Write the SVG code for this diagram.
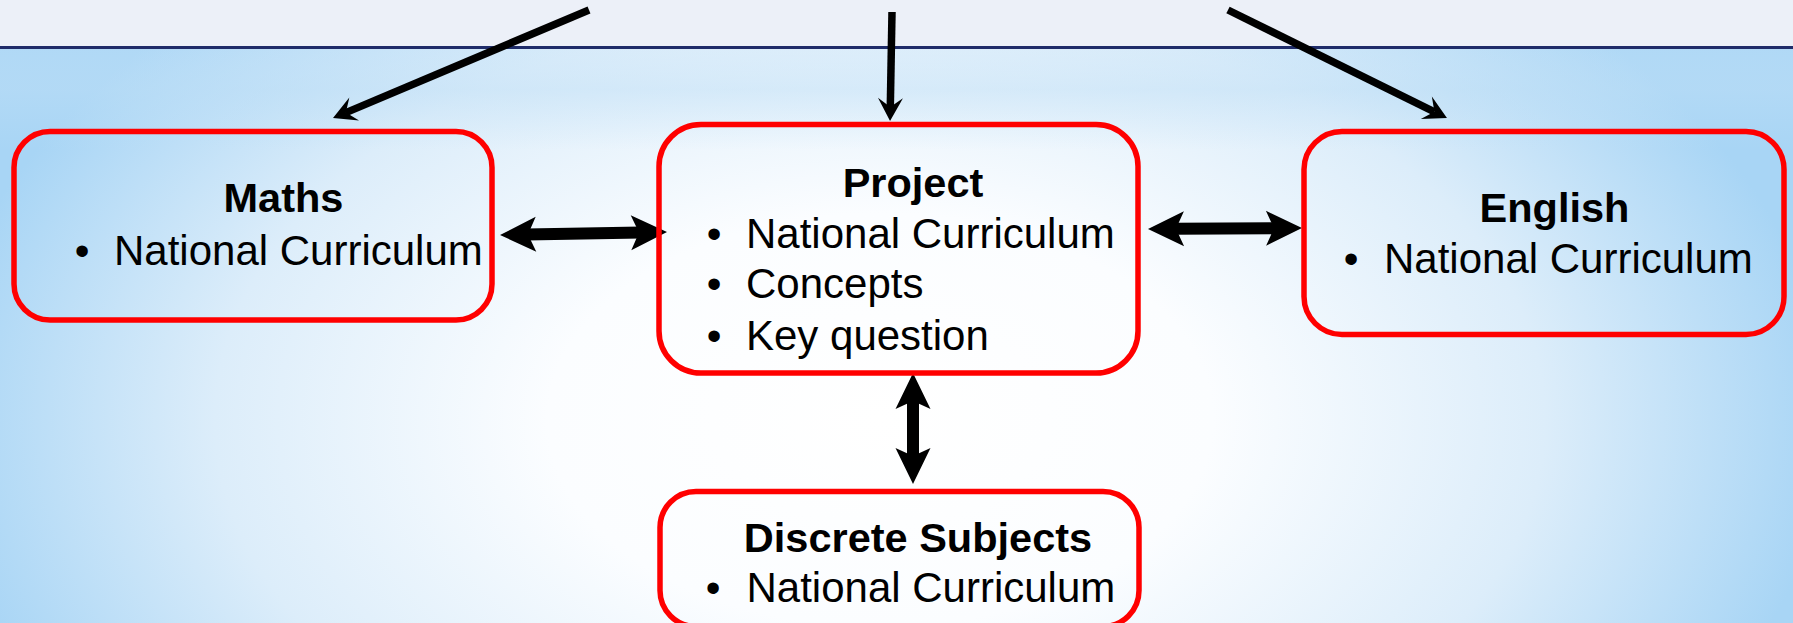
<svg xmlns="http://www.w3.org/2000/svg" width="1793" height="623" viewBox="0 0 1793 623">
  <defs>
    <radialGradient id="bg" gradientUnits="userSpaceOnUse" cx="880" cy="420" r="950" gradientTransform="translate(880 420) scale(1 0.62) translate(-880 -420)">
      <stop offset="0" stop-color="#FFFFFF"/>
      <stop offset="0.35" stop-color="#FBFDFF"/>
      <stop offset="0.7" stop-color="#DCEDFA"/>
      <stop offset="1" stop-color="#A8D5F5"/>
    </radialGradient>
    <linearGradient id="band" x1="0" y1="49" x2="0" y2="150" gradientUnits="userSpaceOnUse">
      <stop offset="0" stop-color="#C9E4F8" stop-opacity="0.25"/>
      <stop offset="0.4" stop-color="#BFDFF6" stop-opacity="0.45"/>
      <stop offset="1" stop-color="#BFDFF6" stop-opacity="0"/>
    </linearGradient>
    <marker id="thin" markerUnits="userSpaceOnUse" viewBox="-30 -16 32 32" markerWidth="32" markerHeight="32" refX="-14" refY="0" orient="auto">
      <path d="M0,0 L-23,-12.5 L-14,0 L-23,12.5 Z" fill="#000"/>
    </marker>
    <marker id="thick" markerUnits="userSpaceOnUse" viewBox="-40 -20 42 40" markerWidth="42" markerHeight="40" refX="-26" refY="0" orient="auto-start-reverse">
      <path d="M0,0 L-36,-17.5 L-28,0 L-36,17.5 Z" fill="#000"/>
    </marker>
  </defs>
  <style>
    .box { fill: none; stroke: #FF0000; stroke-width: 5.5; }
    .title { font-family: "Liberation Sans", Arial, sans-serif; font-weight: bold; font-size: 41.5px; fill: #000; text-anchor: middle; }
    .item { font-family: "Liberation Sans", Arial, sans-serif; font-size: 42px; fill: #000; }
    .bullet { font-family: "Liberation Sans", Arial, sans-serif; font-size: 42px; fill: #000; text-anchor: middle; }
    .thinline { stroke: #000; stroke-width: 7.5; fill: none; marker-end: url(#thin); }
    .thickline { stroke: #000; stroke-width: 12; fill: none; marker-start: url(#thick); marker-end: url(#thick); }
  </style>

  <!-- background -->
  <rect x="0" y="0" width="1793" height="623" fill="url(#bg)"/>
  <rect x="0" y="49" width="1793" height="101" fill="url(#band)"/>
  <rect x="0" y="0" width="1793" height="46" fill="#ECF0F8"/>
  <rect x="0" y="46" width="1793" height="3" fill="#1F2C6A"/>

  <g id="connectors">
    <line class="thinline" x1="589" y1="10" x2="345.9" y2="112.6"/>
    <line class="thinline" x1="892" y1="12" x2="890.3" y2="107"/>
    <line class="thinline" x1="1228" y1="10" x2="1434.4" y2="111.8"/>
    <line class="thickline" x1="526" y1="234.5" x2="641" y2="232.5"/>
    <line class="thickline" x1="1174" y1="228.8" x2="1276" y2="228.2"/>
    <line class="thickline" x1="913" y1="399" x2="913" y2="458"/>
  </g>

  <g id="maths">
    <rect class="box" x="14" y="131.5" width="478" height="188.5" rx="36" ry="36"/>
    <text class="title" x="283.5" y="212">Maths</text>
    <text class="bullet" x="82" y="265">•</text>
    <text class="item" x="114" y="265">National Curriculum</text>
  </g>

  <g id="project">
    <rect class="box" x="659" y="124.5" width="479" height="248.5" rx="42" ry="42"/>
    <text class="title" x="913" y="197">Project</text>
    <text class="bullet" x="714" y="248">•</text>
    <text class="item" x="746" y="248">National Curriculum</text>
    <text class="bullet" x="714" y="298">•</text>
    <text class="item" x="746" y="298">Concepts</text>
    <text class="bullet" x="714" y="350">•</text>
    <text class="item" x="746" y="350">Key question</text>
  </g>

  <g id="english">
    <rect class="box" x="1304" y="131.5" width="480" height="203" rx="38" ry="38"/>
    <text class="title" x="1554.5" y="222">English</text>
    <text class="bullet" x="1351" y="273">•</text>
    <text class="item" x="1384" y="273">National Curriculum</text>
  </g>

  <g id="discrete">
    <rect class="box" x="660" y="491.5" width="479" height="135" rx="36" ry="36"/>
    <text class="title" x="918" y="552">Discrete Subjects</text>
    <text class="bullet" x="713" y="602">•</text>
    <text class="item" x="746.5" y="602">National Curriculum</text>
  </g>
</svg>
